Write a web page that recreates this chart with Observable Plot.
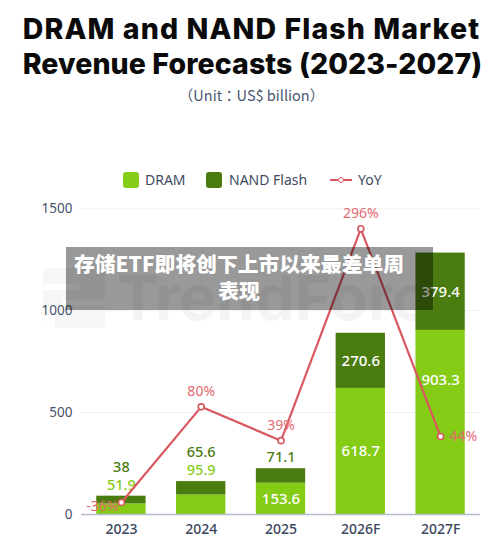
<!DOCTYPE html>
<html><head><meta charset="utf-8">
<script src="https://cdn.jsdelivr.net/npm/d3@7"></script>
<script src="https://cdn.jsdelivr.net/npm/@observablehq/plot@0.6"></script>
<style>
html,body{margin:0;padding:0;background:#fff;}
body{width:500px;height:557px;position:relative;overflow:hidden;font-family:"Noto Sans",sans-serif;}
#title{position:absolute;left:0;width:502px;top:11px;text-align:center;font:800 28.5px/35px Inter,sans-serif;color:#0a0a0a;white-space:nowrap;}
#title .a{letter-spacing:1.1px;position:relative;left:.5px;}
#title .b{letter-spacing:.1px;position:relative;left:1.5px;}
#sub{position:absolute;left:0;width:503px;top:85px;text-align:center;font:14.5px/20px "Noto Sans CJK TC",sans-serif;color:#4a5670;white-space:nowrap;}
#legend{position:absolute;top:172px;left:0;height:16px;width:500px;font-size:14px;line-height:16px;color:#3f4a63;}
#legend span{position:absolute;white-space:nowrap;}
#legend i{position:absolute;display:block;}
#mark{position:absolute;left:117px;top:259px;font:700 62.5px/76px Inter,sans-serif;color:#f4f4f4;white-space:nowrap;z-index:0;}
#logo{position:absolute;left:43px;top:268px;width:62px;height:60px;z-index:0;background:#f6f6f6;border-radius:6px;overflow:hidden;}
#logo b{position:absolute;display:block;background:#fff;}
#chart{position:absolute;left:0;top:190px;z-index:1;}
#banner{position:absolute;left:66px;top:247px;width:367px;height:63px;background:rgba(0,0,0,.4);z-index:2;}
#banner div{width:346px;text-align:center;color:#fff;font:900 20.8px/27px "Noto Sans CJK SC",sans-serif;padding-top:3px;white-space:nowrap;}
</style></head><body>
<div id="logo"><b style="left:0;top:16px;width:36px;height:6px"></b><b style="left:20px;top:32px;width:42px;height:6px"></b><b style="left:0;top:40px;width:12px;height:20px"></b></div>
<div id="mark">TrendForce</div>
<div id="title"><span class="a">DRAM and NAND Flash Market</span><br><span class="b">Revenue Forecasts (2023-2027)</span></div>
<div id="sub">（Unit：US$ billion）</div>
<div id="legend">
<i style="left:123px;top:0;width:16px;height:16px;border-radius:3px;background:#84cc16"></i><span style="left:145px">DRAM</span>
<i style="left:206px;top:0;width:16px;height:16px;border-radius:3px;background:#4b7c0f"></i><span style="left:229px">NAND Flash</span>
<i style="left:330px;top:7px;width:22px;height:2px;background:#d9575f"></i><i style="left:338px;top:5px;width:4px;height:4px;border:1.5px solid #d9575f;border-radius:50%;background:#fff"></i><span style="left:358px">YoY</span>
</div>
<div id="chart"></div>
<div id="banner"><div>存储ETF即将创下上市以来最差单周<br>表现</div></div>
<script>
const years = ["2023","2024","2025","2026F","2027F"];
const dram = [51.9,95.9,153.6,618.7,903.3];
const nand = [38,65.6,71.1,270.6,379.4];
const yoy = [-36,80,39,296,44];
const yTicks = [0,500,1000,1500];

const DRAM="#84cc16", NAND="#4b7c0f", RED="#d9575f", LABEL="#e2686f";
// YoY runs on a hidden secondary axis laid over the revenue axis
const yoyAxis = d3.scaleLinear().domain([-36,296]).range([59,1402]);
const rows = years.map((year,i)=>({year,dram:dram[i],nand:nand[i],yoy:yoy[i],total:dram[i]+nand[i],line:yoyAxis(yoy[i])}));
const stacked = rows.flatMap(r=>[{year:r.year,series:"DRAM",value:r.dram},{year:r.year,series:"NAND Flash",value:r.nand}]);
const yoyLabel = d=>d.yoy+"%";
const at = (i)=>[rows[i]];

const plot = Plot.plot({
  width:500,height:367,marginTop:18.3,marginBottom:43,marginLeft:81,marginRight:20,
  style:{background:"transparent",fontFamily:'"Noto Sans",sans-serif'},
  x:{domain:years,type:"band",paddingInner:.382,paddingOuter:.191,round:false,label:null,tickSize:0},
  y:{domain:[0,1500],label:null},
  color:{domain:["DRAM","NAND Flash"],range:[DRAM,NAND]},
  marks:[
    Plot.ruleY(yTicks.slice(1),{stroke:"#f0f1f3",strokeWidth:1}),
    Plot.barY(stacked,{x:"year",y:"value",fill:"series",order:null}),
    Plot.ruleY([0],{stroke:"#b3bacb",strokeWidth:1.6}),
    Plot.axisY({ticks:yTicks,tickSize:0,tickPadding:9,fontSize:13.5,fill:"#46526b",label:null,tickFormat:d=>String(d)}),
    Plot.axisX({tickSize:0,tickPadding:10,fontSize:14,fontWeight:500,fill:"#3a4660",label:null}),
    // labels above the short bars
    Plot.text(rows.slice(0,2),{x:"year",y:"total",text:d=>d.nand,dy:-29,fill:NAND,fontSize:14.5,fontWeight:500}),
    Plot.text(rows.slice(0,2),{x:"year",y:"total",text:d=>d.dram,dy:-11,fill:DRAM,fontSize:14.5,fontWeight:500}),
    Plot.text(at(2),{x:"year",y:"total",text:d=>d.nand,dy:-11,fill:NAND,fontSize:14.5,fontWeight:500}),
    // labels inside the tall bars
    Plot.text(rows.slice(2,4),{x:"year",y:d=>d.dram/2,text:d=>d.dram.toFixed(1),fill:"#fff",fontSize:15,fontWeight:500}),
    Plot.text(at(4),{x:"year",y:d=>d.dram/2,dy:-42,text:d=>d.dram.toFixed(1),fill:"#fff",fontSize:15,fontWeight:500}),
    Plot.text(rows.slice(3),{x:"year",y:d=>d.dram+d.nand/2,text:d=>d.nand.toFixed(1),fill:"#fff",fontSize:15,fontWeight:500}),
    // YoY
    Plot.line(rows,{x:"year",y:"line",stroke:RED,strokeWidth:2.2}),
    Plot.dot(rows,{x:"year",y:"line",r:3,fill:"#fff",stroke:RED,strokeWidth:1.6}),
    Plot.text(at(0),{x:"year",y:"line",text:yoyLabel,dx:-19,dy:4.5,fill:LABEL,fontSize:14}),
    Plot.text(rows.slice(1,3),{x:"year",y:"line",text:yoyLabel,dy:-15.5,fill:LABEL,fontSize:14}),
    Plot.text(at(3),{x:"year",y:"line",text:yoyLabel,dy:-15,fill:LABEL,fontSize:14}),
    Plot.text(at(4),{x:"year",y:"line",text:yoyLabel,textAnchor:"start",dx:9,fill:LABEL,fontSize:14})
  ]
});
document.getElementById("chart").append(plot);
</script>
</body></html>
